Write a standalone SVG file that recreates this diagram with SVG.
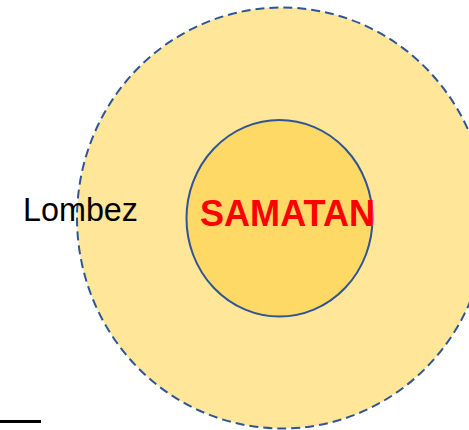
<svg xmlns="http://www.w3.org/2000/svg" width="469" height="430" viewBox="0 0 469 430">
<style>
.ring{stroke:#2F5597;stroke-width:2}
.lbl{font-family:"Liberation Sans",Arial,sans-serif}
</style>
<rect width="469" height="430" fill="#FFFFFF"/>
<g id="outer">
<ellipse class="ring" cx="282" cy="218" rx="205" ry="210.5" fill="#FFE699" stroke-width="2.4" stroke-dasharray="9 5"/>
</g>
<g id="inner">
<ellipse class="ring" cx="279.5" cy="218.3" rx="93" ry="98.3" fill="#FFD966"/>
</g>
<g id="lombez">
<text class="lbl" x="23" y="221" font-size="33" fill="#000000" textLength="115" lengthAdjust="spacingAndGlyphs">Lombez</text>
</g>
<g id="samatan">
<text class="lbl" x="200" y="225.5" font-size="37" font-weight="bold" fill="#FF0000" textLength="175" lengthAdjust="spacingAndGlyphs">SAMATAN</text>
</g>
<g id="connectors">
<line x1="0" y1="421.5" x2="41" y2="421.5" stroke="#000000" stroke-width="3"/>
</g>
</svg>
